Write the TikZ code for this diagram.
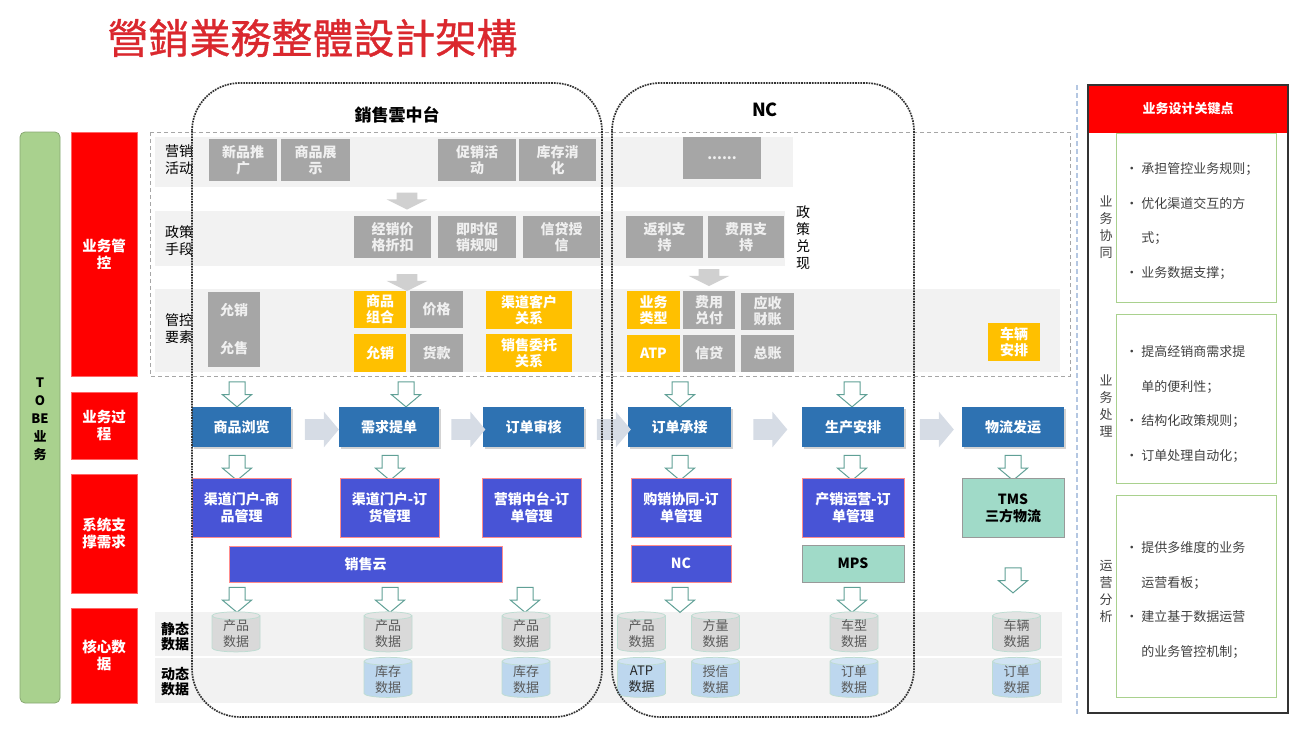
\documentclass[tikz,border=0pt]{standalone}
\usepackage{fontspec}
\setmainfont{Noto Sans CJK SC}
\newfontfamily\titlecjk{Noto Sans CJK SC}[FakeBold=0.9]
\usetikzlibrary{shapes.geometric,shapes.arrows,shadows}

\definecolor{titlered}{RGB}{218,40,46}
\definecolor{labelred}{RGB}{255,0,0}
\definecolor{bargreen}{RGB}{169,209,142}
\definecolor{boxgray}{RGB}{166,166,166}
\definecolor{ctrlyellow}{RGB}{255,192,0}
\definecolor{bandgray}{RGB}{242,242,242}
\definecolor{procblue}{RGB}{46,114,178}
\definecolor{sysblue}{RGB}{72,84,214}
\definecolor{systeal}{RGB}{160,218,200}
\definecolor{arrowteal}{RGB}{96,160,150}
\definecolor{flowgray}{RGB}{214,220,229}
\definecolor{biggray}{RGB}{208,208,208}
\definecolor{dbgray}{RGB}{217,217,217}
\definecolor{dbblue}{RGB}{189,215,238}
\definecolor{dbedge}{RGB}{190,220,210}
\definecolor{keygray}{RGB}{64,64,64}
\definecolor{lineblue}{RGB}{180,199,226}

\begin{document}
\begin{tikzpicture}[x=1pt,y=-1pt,line width=0.75pt,
  redlabel/.style={fill=labelred,draw=red!60!white,text=white,align=center,
    font=\bfseries\fontsize{14.5}{17}\selectfont,minimum width=66,inner sep=0pt},
  rowlabel/.style={align=center,font=\fontsize{14}{17}\selectfont},
  graybox/.style={fill=boxgray,text=white!94!black,align=center,inner sep=0pt,
    font=\bfseries\fontsize{14}{16}\selectfont,minimum height=42},
  yellowbox/.style={graybox,fill=ctrlyellow,text=white,minimum width=52,minimum height=37},
  procbox/.style={fill=procblue,text=white,font=\bfseries\fontsize{14}{16}\selectfont,
    minimum height=40,inner sep=0pt,
    drop shadow={shadow xshift=1.5pt,shadow yshift=-1.5pt,opacity=0.35}},
  sysbox/.style={fill=sysblue,draw=red!45!white,line width=0.6pt,text=white,align=center,
    font=\bfseries\fontsize{14}{17}\selectfont,minimum height=59,inner sep=0pt},
  tealbox/.style={sysbox,fill=systeal,draw=gray!80,line width=1pt,text=black},
  downarrow/.style={single arrow,shape border rotate=270,draw=arrowteal,fill=white,
    line width=1pt,minimum height=25,inner xsep=7.5pt,inner ysep=1pt,
    single arrow head extend=6.5pt,single arrow tip angle=100},
  flowarrow/.style={single arrow,fill=flowgray,minimum height=34,inner xsep=0pt,
    inner ysep=10pt,single arrow head extend=7.5pt,single arrow tip angle=100},
  bigarrow/.style={single arrow,shape border rotate=270,fill=biggray,minimum height=17,
    inner xsep=10pt,inner ysep=0.5pt,single arrow head extend=10pt,single arrow tip angle=127},
  staticdb/.style={cylinder,shape border rotate=90,aspect=0.3,draw=dbedge,
    cylinder uses custom fill,cylinder body fill=dbgray,cylinder end fill=dbgray!70,
    minimum width=48,minimum height=40,inner sep=0pt,align=center,text=black!65,
    font=\fontsize{13}{16}\selectfont},
  dyndb/.style={staticdb,cylinder body fill=dbblue,cylinder end fill=dbblue!70},
  frame/.style={densely dotted,line width=1.7pt,draw=black!80,rounded corners=48},
  sidelabel/.style={align=center,text=keygray,font=\fontsize{13}{17}\selectfont},
  keytext/.style={anchor=north west,align=left,text=keygray,inner sep=0pt,
    font=\fontsize{13}{34.5}\selectfont}]
  \useasboundingbox (0,0) rectangle (1308,733);
  \newcommand\keybul{\makebox[16pt][l]{\textbullet}}
  \newcommand\keyind{\makebox[16pt][l]{}}

  \node[font=\titlecjk\fontsize{41}{44}\selectfont,text=titlered,anchor=west,inner sep=0pt]
    (title) at (107,38) {營銷業務整體設計架構};

  \draw[draw=bargreen!80!black,fill=bargreen,rounded corners=5] (20,132) rectangle (60,703);
  \node[align=center,font=\bfseries\fontsize{13}{18}\selectfont] (tobe) at (40,419)
    {T\\O\\BE\\业\\务};

  \node[redlabel,minimum height=244] (lctrl) at (104,254) {业务管\\控};
  \node[redlabel,minimum height=67] (lproc) at (104,425.5) {业务过\\程};
  \node[redlabel,minimum height=119] (lsys) at (104,533.5) {系统支\\撑需求};
  \node[redlabel,minimum height=95] (ldata) at (104,655.5) {核心数\\据};

  \fill[bandgray] (155,137) rectangle (793,187);
  \fill[bandgray] (155,211) rectangle (785,266);
  \fill[bandgray] (155,289) rectangle (1060,372);
  \draw[draw=gray!70,dash pattern=on 4pt off 3pt] (150,132) rectangle (1070,376);
  \fill[bandgray] (155,612) rectangle (1062,656);
  \fill[bandgray] (155,658) rectangle (1062,703);

  \node[rowlabel] (lact) at (179,160) {营销\\活动};
  \node[rowlabel] (lpol) at (179,241) {政策\\手段};
  \node[rowlabel] (lelem) at (179,329) {管控\\要素};
  \node[rowlabel,font=\bfseries\fontsize{14}{15}\selectfont] (lstat) at (175,637) {静态\\数据};
  \node[rowlabel,font=\bfseries\fontsize{14}{15}\selectfont] (ldyn) at (175,682) {动态\\数据};
  \node[rowlabel,font=\fontsize{14}{17}\selectfont] (ldx) at (803,238) {政\\策\\兑\\现};

  \node[graybox,minimum width=68] (newp) at (243,160) {新品推\\广};
  \node[graybox,minimum width=69] (show) at (315.5,160) {商品展\\示};
  \node[graybox,minimum width=78] (promo) at (477,160) {促销活\\动};
  \node[graybox,minimum width=77] (stock) at (557.5,160) {库存消\\化};
  \node[graybox,minimum width=78] (more) at (722,158) {......};

  \node[graybox,minimum width=77] (disc) at (392.5,237) {经销价\\格折扣};
  \node[graybox,minimum width=78] (rule) at (477,237) {即时促\\销规则};
  \node[graybox,minimum width=77] (cred) at (561.5,237) {信贷授\\信};
  \node[graybox,minimum width=77] (rebt) at (664.5,237) {返利支\\持};
  \node[graybox,minimum width=76] (cost) at (746,237) {费用支\\持};

  \node[graybox,minimum width=52,minimum height=75] (allow) at (234,329.5) {允销\\[22pt]允售};
  \node[yellowbox] (combo) at (380,309.5) {商品\\组合};
  \node[graybox,minimum width=53,minimum height=37] (price) at (436.5,309.5) {价格};
  \node[yellowbox,minimum height=38] (allow2) at (380,353) {允销};
  \node[graybox,minimum width=53,minimum height=38] (pay) at (436.5,353) {货款};
  \node[yellowbox,minimum width=86,minimum height=38] (chan) at (529,310) {渠道客户\\关系};
  \node[yellowbox,minimum width=86,minimum height=38] (entr) at (529,353) {销售委托\\关系};
  \node[yellowbox,minimum width=53,minimum height=38] (btype) at (653.5,310) {业务\\类型};
  \node[graybox,minimum width=52,minimum height=38] (fee) at (709,310) {费用\\兑付};
  \node[graybox,minimum width=53,minimum height=37] (recv) at (767.5,311.5) {应收\\财账};
  \node[yellowbox,minimum width=53] (atp) at (653.5,353.5) {ATP};
  \node[graybox,minimum width=52,minimum height=37] (loan) at (709,353.5) {信贷};
  \node[graybox,minimum width=53,minimum height=37] (ledg) at (767.5,353.5) {总账};
  \node[yellowbox,minimum height=38] (truck) at (1014,342) {车辆\\安排};

  \node[bigarrow] (ga1) at (407,198.5) {};
  \node[bigarrow] (ga2) at (407,280) {};
  \node[bigarrow] (ga3) at (709,275) {};

  \node[downarrow] (da1) at (237,391) {};
  \node[downarrow] (da2) at (406,391) {};
  \node[downarrow] (da3) at (680,391) {};
  \node[downarrow] (da4) at (852,391) {};

  \node[procbox,minimum width=99] (browse) at (241.5,427) {商品浏览};
  \node[procbox,minimum width=100] (order) at (389,427) {需求提单};
  \node[procbox,minimum width=101] (audit) at (533.5,427) {订单审核};
  \node[procbox,minimum width=103] (accept) at (679.5,427) {订单承接};
  \node[procbox,minimum width=102] (plan) at (853,427) {生产安排};
  \node[procbox,minimum width=102] (ship) at (1013,427) {物流发运};

  \node[flowarrow] (fa1) at (317.5,429.5) {};
  \node[flowarrow] (fa2) at (464,429.5) {};
  \node[flowarrow] (fa3) at (609.5,429.5) {};
  \node[flowarrow] (fa4) at (766,429.5) {};
  \node[flowarrow] (fa5) at (932.5,429.5) {};

  \node[downarrow] (db1) at (237,464.5) {};
  \node[downarrow] (db2) at (390,464.5) {};
  \node[downarrow] (db3) at (680,464.5) {};
  \node[downarrow] (db4) at (852,464.5) {};
  \node[downarrow] (db5) at (1013,464.5) {};

  \node[sysbox,minimum width=99] (portal1) at (241.5,508) {渠道门户-商\\品管理};
  \node[sysbox,minimum width=99] (portal2) at (389.5,508) {渠道门户-订\\货管理};
  \node[sysbox,minimum width=99] (midord) at (531.5,508) {营销中台-订\\单管理};
  \node[sysbox,minimum width=100] (collab) at (681,508) {购销协同-订\\单管理};
  \node[sysbox,minimum width=102] (prodop) at (853,508) {产销运营-订\\单管理};
  \node[tealbox,minimum width=102] (tms) at (1013,508) {TMS\\三方物流};
  \node[sysbox,minimum width=273,minimum height=36] (cloud) at (365.5,564) {销售云};
  \node[sysbox,minimum width=100,minimum height=37] (ncsys) at (681,563.5) {NC};
  \node[tealbox,minimum width=102,minimum height=37] (mps) at (853,563.5) {MPS};

  \node[downarrow] (dc1) at (237,596.5) {};
  \node[downarrow] (dc2) at (390,596.5) {};
  \node[downarrow] (dc3) at (525,596.5) {};
  \node[downarrow] (dc4) at (680,596.5) {};
  \node[downarrow] (dc5) at (852,596.5) {};
  \node[downarrow] (dc6) at (1013,577) {};

  \node[staticdb] (s1) at (236,634) {产品\\数据};
  \node[staticdb] (s2) at (388,634) {产品\\数据};
  \node[staticdb] (s3) at (526,634) {产品\\数据};
  \node[staticdb] (s4) at (641.5,634) {产品\\数据};
  \node[staticdb] (s5) at (715.5,634) {方量\\数据};
  \node[staticdb] (s6) at (854,634) {车型\\数据};
  \node[staticdb] (s7) at (1016.5,634) {车辆\\数据};
  \node[dyndb] (d2) at (388,679.5) {库存\\数据};
  \node[dyndb] (d3) at (526,679.5) {库存\\数据};
  \node[dyndb,text=black!85] (d4) at (641.5,679.5) {ATP\\数据};
  \node[dyndb] (d5) at (715.5,679.5) {授信\\数据};
  \node[dyndb] (d6) at (854,679.5) {订单\\数据};
  \node[dyndb] (d7) at (1016.5,679.5) {订单\\数据};

  \draw[frame] (192,83) rectangle (602,717);
  \draw[frame] (612,83) rectangle (914,717);
  \node[font=\bfseries\fontsize{17}{20}\selectfont] (xsy) at (397,115) {銷售雲中台};
  \node[font=\bfseries\fontsize{18}{20}\selectfont] (nclab) at (765,110) {NC};

  \draw[draw=lineblue,line width=1.2pt,dash pattern=on 5pt off 3pt] (1077,85) -- (1077,715);

  \draw[draw=bargreen,line width=1pt] (1116,133) rectangle (1276,302);
  \draw[draw=bargreen,line width=1pt] (1116,314) rectangle (1276,483);
  \draw[draw=bargreen,line width=1pt] (1116,495) rectangle (1276,697);
  \fill[labelred] (1088,85) rectangle (1288,133);
  \draw[line width=1.5pt,draw=black!80] (1088,85) rectangle (1288,713);
  \node[text=white,font=\bfseries\fontsize{13}{15}\selectfont] (keyhead) at (1188,109) {业务设计关键点};

  \node[sidelabel] (kcol) at (1106,227.5) {业\\务\\协\\同};
  \node[sidelabel] (kproc) at (1106,406) {业\\务\\处\\理};
  \node[sidelabel] (kana) at (1106,591) {运\\营\\分\\析};
  \node[keytext] (k1) at (1125,162.5)
    {\keybul 承担管控业务规则；\\\keybul 优化渠道交互的方\\\keyind 式；\\\keybul 业务数据支撑；};
  \node[keytext] (k2) at (1125,345.5)
    {\keybul 提高经销商需求提\\\keyind 单的便利性；\\\keybul 结构化政策规则；\\\keybul 订单处理自动化；};
  \node[keytext] (k3) at (1125,541.5)
    {\keybul 提供多维度的业务\\\keyind 运营看板；\\\keybul 建立基于数据运营\\\keyind 的业务管控机制；};
\end{tikzpicture}
\end{document}
